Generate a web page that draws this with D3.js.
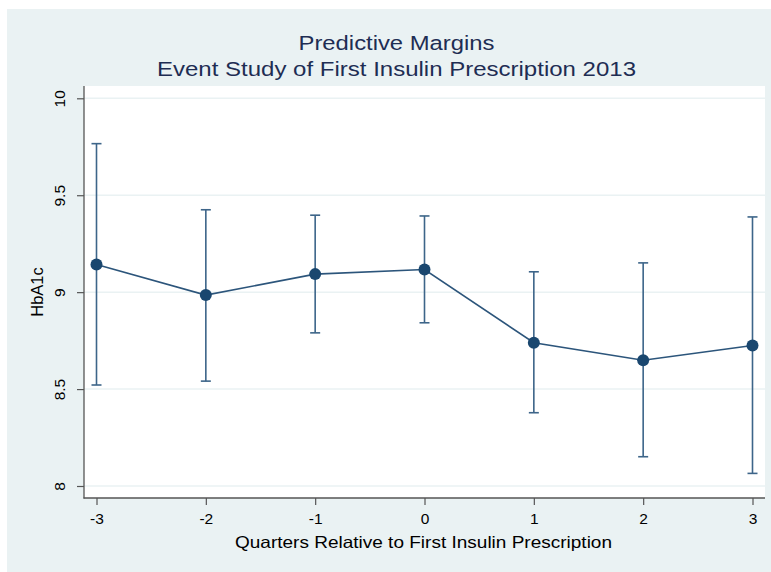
<!DOCTYPE html>
<html><head><meta charset="utf-8">
<script src="https://cdn.jsdelivr.net/npm/d3@7"></script>
<style>html,body{margin:0;padding:0;background:#fff;}svg{display:block;}</style>
</head><body>
<script>
const quarters = [-3, -2, -1, 0, 1, 2, 3];
const margins = [9.143, 8.985, 9.093, 9.117, 8.739, 8.649, 8.725];
const ciLower = [8.521, 8.541, 8.790, 8.842, 8.378, 8.151, 8.065];
const ciUpper = [9.766, 9.425, 9.397, 9.393, 9.105, 9.151, 9.388];
const yTicks = [8, 8.5, 9, 9.5, 10];
const yTickLabels = ["8", "8.5", "9", "9.5", "10"];
const xTickLabels = ["-3", "-2", "-1", "0", "1", "2", "3"];
const titleLines = ["Predictive Margins", "Event Study of First Insulin Prescription 2013"];
const xTitle = "Quarters Relative to First Insulin Prescription";
const yTitle = "HbA1c";

const W = 771, H = 572;
const svg = d3.select("body").append("svg").attr("width", W).attr("height", H);
const font = "'Liberation Sans', Arial, Helvetica, sans-serif";

svg.append("rect").attr("x", 7).attr("y", 9).attr("width", W - 7).attr("height", H - 9).attr("fill", "#EAF2F3");

const plot = {left: 84, right: 765, top: 86, bottom: 498};
svg.append("rect").attr("x", plot.left).attr("y", plot.top)
  .attr("width", plot.right - plot.left).attr("height", plot.bottom - plot.top).attr("fill", "#fff");

const x = d3.scaleLinear().domain([-3, 3]).range([96.5, 752.5]);
const y = d3.scaleLinear().domain([8, 10]).range([486, 98.3]);

// gridlines
svg.append("g").selectAll("line").data(yTicks).join("line")
  .attr("x1", plot.left).attr("x2", plot.right)
  .attr("y1", d => y(d)).attr("y2", d => y(d))
  .attr("stroke", "#EAF2F3").attr("stroke-width", 1.5);

// y axis
const yAxis = d3.axisLeft(y).tickValues(yTicks).tickSize(7).tickPadding(8)
  .tickFormat((d, i) => yTickLabels[i]);
const gy = svg.append("g").attr("transform", `translate(${plot.left},0)`).call(yAxis);
gy.select(".domain").remove();
gy.selectAll(".tick line").attr("stroke", "#555").attr("stroke-width", 1.2);
gy.selectAll(".tick text")
  .attr("transform", "rotate(-90)")
  .attr("x", 0).attr("y", -19)
  .attr("dy", "0")
  .attr("text-anchor", "middle")
  .attr("font-family", font).attr("font-size", 15.5).attr("fill", "#000");
svg.append("line").attr("x1", plot.left).attr("x2", plot.left).attr("y1", plot.top).attr("y2", plot.bottom + 0.5)
  .attr("stroke", "#555").attr("stroke-width", 1.3);

// x axis
const xAxis = d3.axisBottom(x).tickValues(quarters).tickSize(7).tickPadding(8)
  .tickFormat((d, i) => xTickLabels[i]);
const gx = svg.append("g").attr("transform", `translate(0,${plot.bottom})`).call(xAxis);
gx.select(".domain").remove();
gx.selectAll(".tick line").attr("stroke", "#555").attr("stroke-width", 1.2);
gx.selectAll(".tick text").attr("font-family", font).attr("font-size", 15.5).attr("fill", "#000");
svg.append("line").attr("x1", plot.left - 0.5).attr("x2", plot.right).attr("y1", plot.bottom).attr("y2", plot.bottom)
  .attr("stroke", "#555").attr("stroke-width", 1.3);

// error bars
const ciColor = "#3d6589";
const rows = quarters.map((q, i) => ({q, m: margins[i], lo: ciLower[i], hi: ciUpper[i]}));
const eb = svg.append("g");
eb.selectAll("line.v").data(rows).join("line").attr("class", "v")
  .attr("x1", d => x(d.q)).attr("x2", d => x(d.q))
  .attr("y1", d => y(d.lo)).attr("y2", d => y(d.hi))
  .attr("stroke", ciColor).attr("stroke-width", 1.6);
["lo", "hi"].forEach(k => {
  eb.selectAll("line.c" + k).data(rows).join("line").attr("class", "c" + k)
    .attr("x1", d => x(d.q) - 5).attr("x2", d => x(d.q) + 5)
    .attr("y1", d => y(d[k])).attr("y2", d => y(d[k]))
    .attr("stroke", ciColor).attr("stroke-width", 1.6);
});

// line
const line = d3.line().x(d => x(d.q)).y(d => y(d.m));
svg.append("path").datum(rows).attr("d", line).attr("fill", "none")
  .attr("stroke", "#2c557b").attr("stroke-width", 1.6);

// markers
svg.append("g").selectAll("circle").data(rows).join("circle")
  .attr("cx", d => x(d.q)).attr("cy", d => y(d.m)).attr("r", 6)
  .attr("fill", "#1a476f");

// titles
const tl = [[50, 196], [76, 479]];
titleLines.forEach((t, i) => {
  svg.append("text").attr("x", 396.5).attr("y", tl[i][0]).attr("text-anchor", "middle")
    .attr("font-family", font).attr("font-size", 20.5).attr("fill", "#1e2d53")
    .attr("textLength", tl[i][1]).attr("lengthAdjust", "spacingAndGlyphs")
    .text(t);
});

svg.append("text").attr("x", 423.5).attr("y", 548).attr("text-anchor", "middle")
  .attr("font-family", font).attr("font-size", 16.5).attr("fill", "#000")
  .attr("textLength", 377).attr("lengthAdjust", "spacingAndGlyphs")
  .text(xTitle);

svg.append("text").attr("transform", `translate(43,292) rotate(-90)`).attr("text-anchor", "middle")
  .attr("font-family", font).attr("font-size", 16.5).attr("fill", "#000")
  .text(yTitle);
</script>
</body></html>
